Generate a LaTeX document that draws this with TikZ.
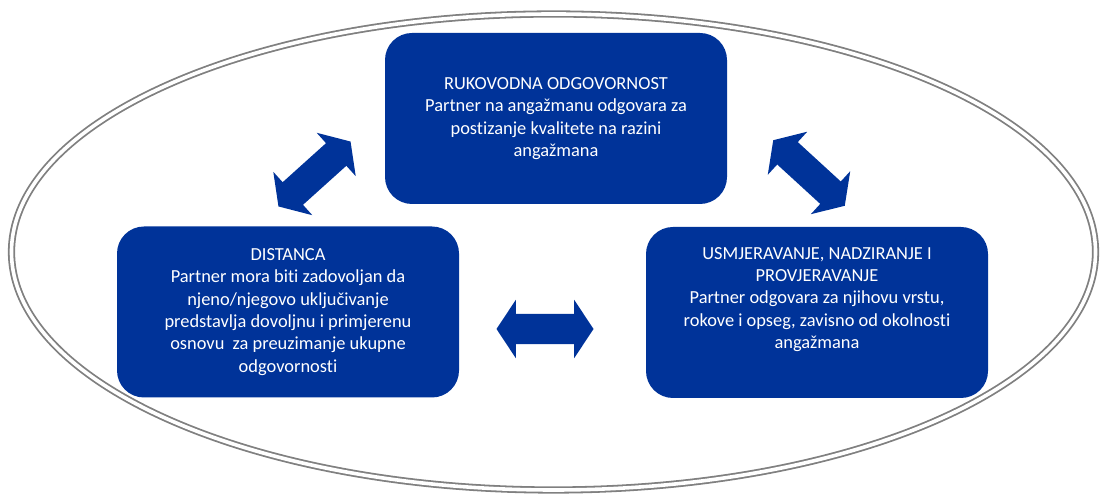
\documentclass[tikz,border=0pt]{standalone}
\usepackage{fontspec}
\setmainfont{Carlito}[Ligatures={NoCommon,NoContextual}]
\usetikzlibrary{shapes.arrows}
\definecolor{boxblue}{RGB}{0,51,153}
\definecolor{rimgray}{RGB}{128,128,128}
\tikzset{
  box/.style={fill=boxblue,rounded corners=27pt,text=white,align=center,
    minimum width=342pt,minimum height=171pt,inner sep=0pt,
    font=\fontsize{18.4}{22.4}\selectfont},
  dblarrow/.style={double arrow,fill=boxblue,inner xsep=0pt,inner ysep=15pt,
    minimum height=97pt,minimum width=58pt,
    double arrow head extend=14pt,double arrow tip angle=113}
}
\begin{document}
\begin{tikzpicture}[x=1pt,y=1pt]
\useasboundingbox (0,0) rectangle (1100,494);
% outer ring
\draw[rimgray,line width=1.8pt,double=white,double distance=3.6pt]
  (553.5,242) ellipse (542 and 238);
% the three boxes
\node[box] (lead) at (556,375.5) {RUKOVODNA ODGOVORNOST\\Partner na angažmanu odgovara za\\postizanje kvalitete na razini\\angažmana};
\node[box] (dist) at (288,182) {DISTANCA\\Partner mora biti zadovoljan da\\njeno/njegovo uključivanje\\predstavlja dovoljnu i primjerenu\\osnovu\ \ za preuzimanje ukupne\\odgovornosti};
\node[box] (supv) at (817,181.5) {USMJERAVANJE, NADZIRANJE I\\PROVJERAVANJE\\Partner odgovara za njihovu vrstu,\\rokove i opseg, zavisno od okolnosti\\angažmana\\\strut};
% arrows between them
\node[dblarrow,rotate=42] (arrl) at (314.5,320) {};
\node[dblarrow,rotate=-42.5] (arrr) at (809,321) {};
\node[dblarrow] (arrm) at (545,165) {};
\end{tikzpicture}
\end{document}
